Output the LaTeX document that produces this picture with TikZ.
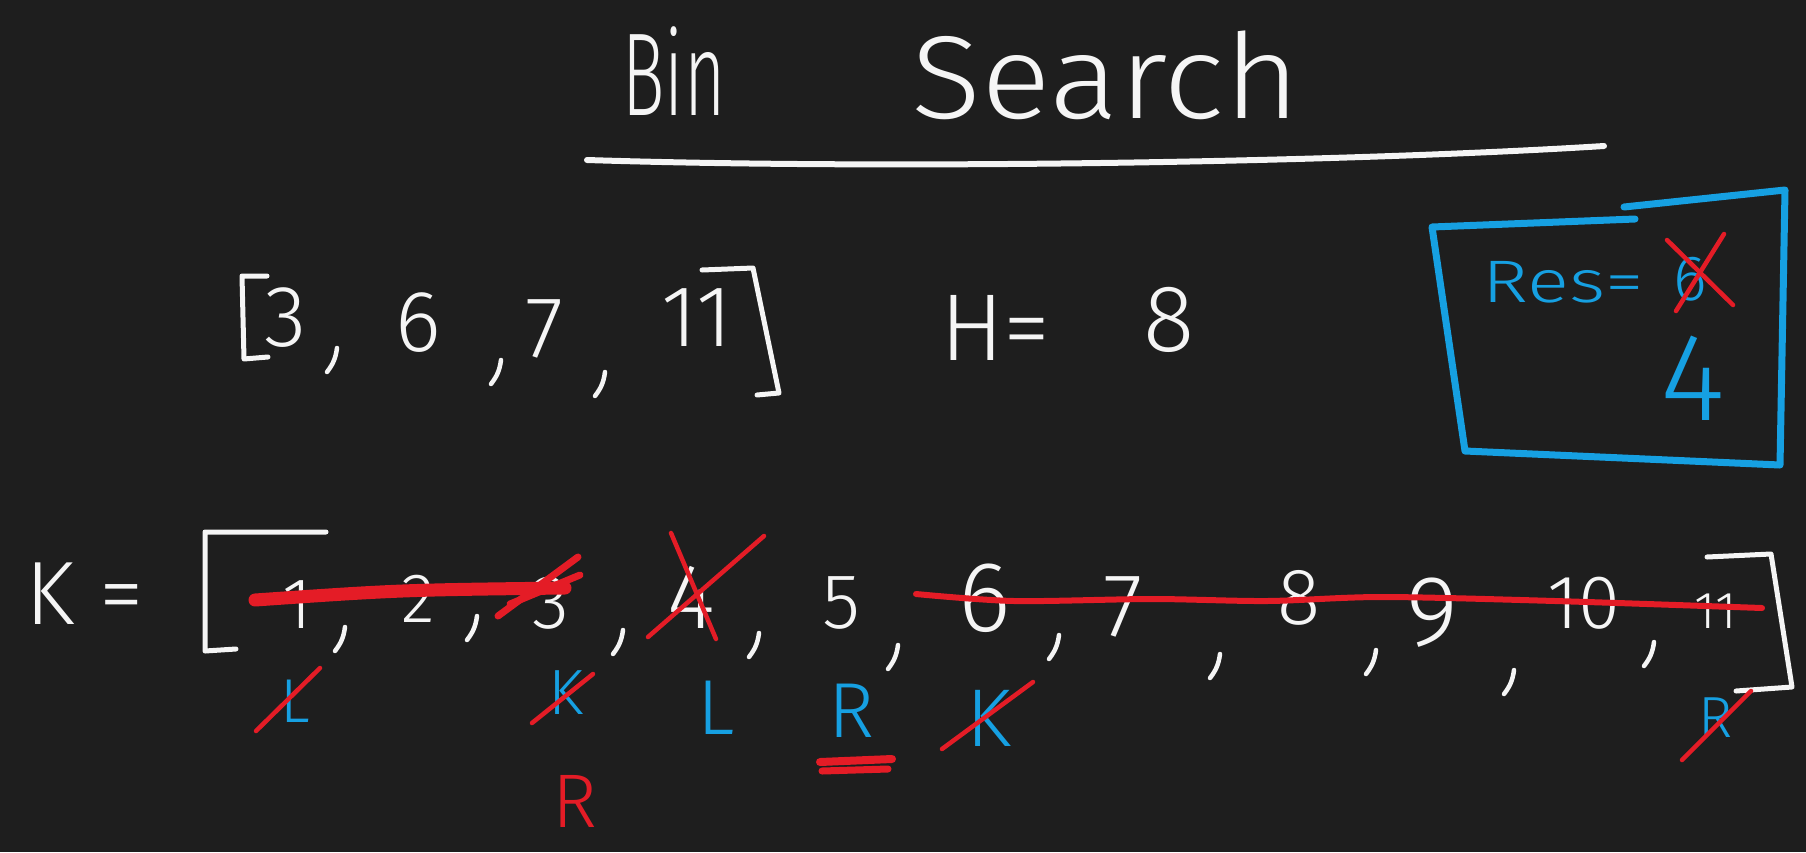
\documentclass[tikz,border=0pt]{standalone}
\usepackage{fontspec}
\setmainfont{Fira Sans Light}
\usetikzlibrary{positioning}
\definecolor{boardbg}{RGB}{30,30,30}
\definecolor{chalkwhite}{RGB}{245,245,245}
\definecolor{penblue}{RGB}{22,160,226}
\definecolor{penred}{RGB}{228,28,38}
\newcommand\pensize[1]{\fontsize{#1}{#1}\selectfont}

\begin{document}
\begin{tikzpicture}[x=1pt,y=-1pt,
    chalk/.style={draw=chalkwhite,line width=5pt,line cap=round,line join=round},
    blueline/.style={draw=penblue,line width=7pt,line cap=round,line join=round},
    strike/.style={draw=penred,line width=4.5pt,line cap=round},
    num/.style={text=chalkwhite,inner sep=0pt,anchor=base},
    ptr/.style={text=penblue,inner sep=0pt,anchor=base},
    comma/.pic={\draw[chalk,line width=4.5pt] (5,-12) to[bend left=15] (-5,12);}
  ]
  \fill[boardbg] (0,0) rectangle (1806,852);
  \useasboundingbox (0,0) rectangle (1806,852);

  % title
  \node[num,font=\pensize{118},xscale=0.6] (tbin) at (674,115) {Bin};
  \node[num,font=\pensize{118},xscale=1.1] (tsearch) at (1106,118) {Search};
  \draw[chalk,line width=6pt] (587,160) .. controls (900,170) and (1350,162) .. (1604,146);

  % piles and hours
  \draw[chalk] (267,276) -- (242,276) -- (244,359) -- (268,357);
  \node[num,font=\pensize{87}] (a3) at (286,346) {3};
  \node[num,font=\pensize{87}] (a6) at (418,351) {6};
  \node[num,font=\pensize{87}] (a7) at (545,357) {7};
  \node[num,font=\pensize{87}] (a11) at (697,346) {11};
  \draw[chalk] (702,270) -- (753,268) -- (779,393) -- (757,395);
  \foreach \cx/\cy in {332/360,496/372,600/384}
    \pic at (\cx,\cy) {comma};
  \node[num,font=\pensize{95},anchor=base west] (hlab) at (940,360) {H=};
  \node[num,font=\pensize{95}] (hval) at (1169,351) {8};

  % result box
  \draw[blueline] (1635,219) -- (1432,227) -- (1465,451) -- (1780,465) -- (1785,190) -- (1624,207);
  \node[ptr,font=\pensize{60},anchor=base west,xscale=1.3] (res) at (1482,302) {Res=};
  \node[ptr,font=\pensize{64}] (resold) at (1690,300) {6};
  \draw[strike] (1667,240) -- (1733,305);
  \draw[strike] (1724,234) -- (1676,311);
  \node[ptr,font=\pensize{125}] (resnew) at (1693,420) {4};

  % search range
  \node[num,font=\pensize{90},anchor=base west] (klab) at (25,624) {K =};
  \draw[chalk] (326,532) -- (205,532) -- (205,651) -- (236,649);
  \foreach \v/\x/\y/\s in {1/297/628/72,2/418/622/70,3/551/628/76,4/691/628/92,5/841/628/78,
      6/985/631/100,7/1123/636/90,8/1299/624/80,9/1432/645/100,10/1584/628/76,11/1716/628/52}
    \node[num,font=\pensize{\s}] (k\v) at (\x,\y) {\v};
  \foreach \cx/\cy in {340/639,472/628,618/642,754/645,893/657,1054/647,1215/666,1371/662,1509/682,1649/654}
    \pic at (\cx,\cy) {comma};
  \draw[chalk] (1707,557) -- (1771,554) -- (1792,687) -- (1736,691);

  % crossed out
  \draw[draw=penred,line width=13pt,line cap=round] (255,600) .. controls (400,590) .. (565,588);
  \draw[strike,line width=7pt] (498,616) -- (578,557);
  \draw[strike,line width=7pt] (510,604) -- (580,575);
  \draw[strike] (671,533) -- (716,639);
  \draw[strike] (764,536) -- (648,637);
  \draw[strike,line width=6pt] plot[smooth] coordinates {(916,594) (1014,601) (1152,599) (1267,601) (1382,597) (1555,601) (1762,608)};

  % pointers
  \node[ptr,font=\pensize{62}] (lold) at (295,722) {L};
  \draw[strike] (256,731) -- (320,668);
  \node[ptr,font=\pensize{64}] (kold) at (566,714) {K};
  \draw[strike] (532,723) -- (593,674);
  \node[ptr,font=\pensize{78}] (lnew) at (716,734) {L};
  \node[ptr,font=\pensize{78}] (rnew) at (851,737) {R};
  \draw[draw=penred,line width=8pt,line cap=round] (820,762) -- (892,759);
  \draw[draw=penred,line width=7pt,line cap=round] (822,771) -- (888,769);
  \node[ptr,font=\pensize{82}] (kmid) at (989,746) {K};
  \draw[strike] (942,749) -- (1033,682);
  \node[ptr,font=\pensize{58}] (rold) at (1716,737) {R};
  \draw[strike] (1682,760) -- (1751,691);
  \node[text=penred,font=\pensize{76},inner sep=0pt,anchor=base] (rred) at (575,827) {R};
\end{tikzpicture}
\end{document}
